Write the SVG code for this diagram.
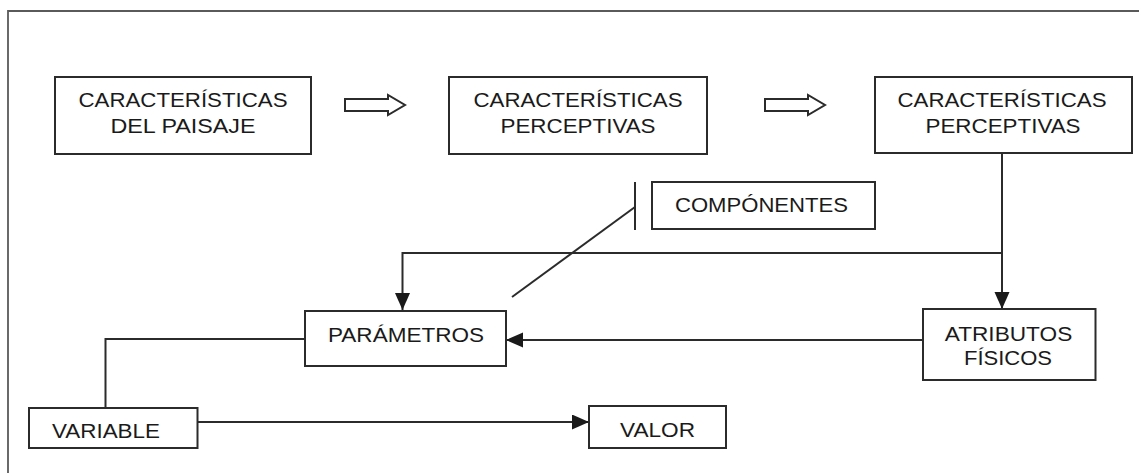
<svg xmlns="http://www.w3.org/2000/svg" width="1139" height="473" viewBox="0 0 1139 473">
<style>
.box{fill:#fff;stroke:#2b2b2b;stroke-width:2}
.t{font-family:"Liberation Sans",Arial,sans-serif;font-size:20.5px;fill:#1a1a1a;text-anchor:middle}
.ln{fill:none;stroke:#2b2b2b;stroke-width:2}
.hol{fill:#fff;stroke:#2b2b2b;stroke-width:2;stroke-linejoin:miter}
</style>
<defs>
<marker id="ah" markerUnits="userSpaceOnUse" markerWidth="18" markerHeight="16" refX="17" refY="7.5" orient="auto">
<path d="M0,0 L17,7.5 L0,15 z" fill="#1a1a1a"/>
</marker>
</defs>
<rect x="0" y="0" width="1139" height="473" fill="#fff"/>
<path d="M8,473 V11 H1139" fill="none" stroke="#5a5a5a" stroke-width="1.8"/>

<g id="connectors">
<polygon class="hol" points="345,99 388,99 388,95 405,105 388,115 388,111 345,111"/>
<polygon class="hol" points="765,99 808,99 808,95 825,105 808,115 808,111 765,111"/>
<path class="ln" d="M1002,153 V309" marker-end="url(#ah)"/>
<path class="ln" d="M1002,253 H402.5 V310" marker-end="url(#ah)"/>
<path class="ln" d="M923,340 H506" marker-end="url(#ah)"/>
<path class="ln" d="M305,339 H105.5 V408"/>
<path class="ln" d="M197.5,422 H589" marker-end="url(#ah)"/>
<path class="ln" d="M635,182 V230"/>
<path class="ln" d="M635,207 L512,297" stroke-width="1.6"/>
</g>

<g id="n1">
<rect class="box" x="55" y="77" width="256" height="77"/>
<text class="t" x="183" y="107" textLength="209" lengthAdjust="spacingAndGlyphs">CARACTERÍSTICAS</text>
<text class="t" x="183" y="133" textLength="145" lengthAdjust="spacingAndGlyphs">DEL PAISAJE</text>
</g>
<g id="n2">
<rect class="box" x="449" y="77" width="258" height="77"/>
<text class="t" x="578" y="107" textLength="209" lengthAdjust="spacingAndGlyphs">CARACTERÍSTICAS</text>
<text class="t" x="578" y="133" textLength="155" lengthAdjust="spacingAndGlyphs">PERCEPTIVAS</text>
</g>
<g id="n3">
<rect class="box" x="875" y="77" width="257" height="76"/>
<text class="t" x="1002" y="107" textLength="209" lengthAdjust="spacingAndGlyphs">CARACTERÍSTICAS</text>
<text class="t" x="1003" y="133" textLength="155" lengthAdjust="spacingAndGlyphs">PERCEPTIVAS</text>
</g>
<g id="n4">
<rect class="box" x="652" y="182" width="223" height="47"/>
<text class="t" x="761.5" y="212" textLength="173" lengthAdjust="spacingAndGlyphs">COMPÓNENTES</text>
</g>
<g id="n5">
<rect class="box" x="305" y="311" width="201" height="55"/>
<text class="t" x="406" y="342" textLength="156" lengthAdjust="spacingAndGlyphs">PARÁMETROS</text>
</g>
<g id="n6">
<rect class="box" x="923" y="309" width="172.5" height="71"/>
<text class="t" x="1008.5" y="341" textLength="127.5" lengthAdjust="spacingAndGlyphs">ATRIBUTOS</text>
<text class="t" x="1008" y="365" textLength="88" lengthAdjust="spacingAndGlyphs">FÍSICOS</text>
</g>
<g id="n7">
<rect class="box" x="29" y="408" width="168.5" height="40"/>
<text class="t" x="106" y="438" textLength="108" lengthAdjust="spacingAndGlyphs">VARIABLE</text>
</g>
<g id="n8">
<rect class="box" x="589" y="406" width="137" height="42"/>
<text class="t" x="657.5" y="437" textLength="75" lengthAdjust="spacingAndGlyphs">VALOR</text>
</g>
</svg>
